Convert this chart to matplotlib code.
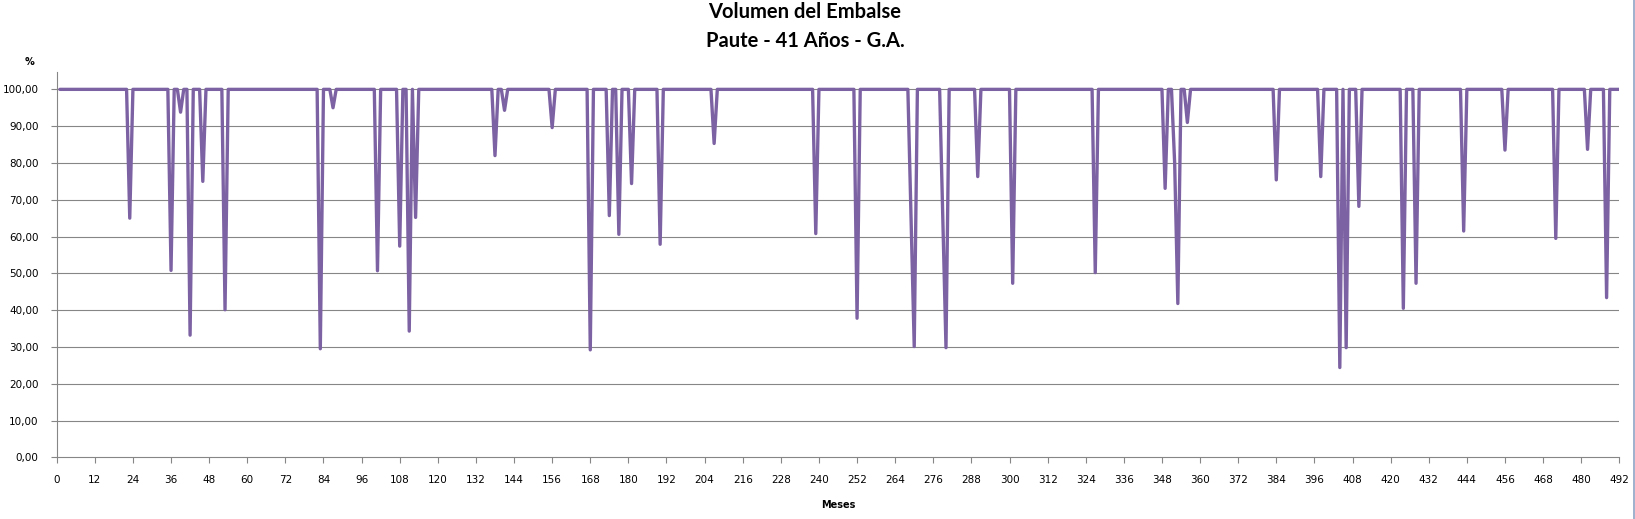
import numpy as np
import matplotlib
matplotlib.use('Agg')
import matplotlib.pyplot as plt
from matplotlib.lines import Line2D

# datos (meses 1..492, volumen en %)
n_months = 492
full_level = 100.0
dip_months = [23, 36, 39, 42, 46, 53, 83, 87, 101, 108, 111, 113, 138, 141, 156,
              168, 174, 177, 181, 190, 207, 239, 252, 269, 270, 279, 280, 290, 301,
              327, 349, 352, 353, 356, 384, 398, 404, 406, 410, 424, 428, 443, 456,
              472, 482, 488]
dip_values = [65.0, 50.8, 93.8, 33.2, 75.0, 40.1, 29.5, 95.0, 50.7, 57.4, 34.3, 65.2,
              82.0, 94.3, 89.6, 29.2, 65.7, 60.6, 74.4, 57.9, 85.3, 60.8, 37.8, 65.0,
              30.1, 65.0, 29.8, 76.3, 47.3, 50.2, 73.1, 80.0, 41.8, 91.0, 75.4, 76.3,
              24.4, 29.8, 68.2, 40.5, 47.3, 61.5, 83.5, 59.5, 83.7, 43.4]

y_ticks = list(range(0, 101, 10))
y_labels = [f"{v},00" for v in y_ticks]
x_ticks = list(range(0, 493, 12))

months = np.arange(1, n_months + 1)
volumen = np.full(n_months, full_level)
volumen[np.array(dip_months) - 1] = dip_values

W, H = 1635, 519
fig = plt.figure(figsize=(W / 100, H / 100), dpi=100)
ax = fig.add_axes([56.7 / W, (H - 457.3) / H, (1619.3 - 56.7) / W, (457.3 - 71.7) / H])

grid_col = '#868686'
for v in y_ticks[1:]:
    ax.axhline(v, color=grid_col, lw=0.8, zorder=1)

ax.plot(months, volumen, color='#7D62A3', lw=2.4, solid_joinstyle='round',
        solid_capstyle='round', zorder=3)

ax.set_xlim(0, n_months)
ax.set_ylim(0, 104.8)
ax.set_xticks(x_ticks)
ax.set_xticklabels([str(t) for t in x_ticks])
ax.set_yticks(y_ticks)
ax.set_yticklabels(y_labels)
ax.tick_params(axis='both', direction='out', length=4, width=0.8, color=grid_col,
               labelsize=7.5, labelcolor='black')
ax.tick_params(axis='x', pad=9)
ax.tick_params(axis='y', pad=9)
for s in ['top', 'right']:
    ax.spines[s].set_visible(False)
for s in ['left', 'bottom']:
    ax.spines[s].set_color(grid_col)
    ax.spines[s].set_linewidth(0.8)

fig.text(838 / W, 1 - 505 / H, 'Meses', ha='center', va='center', fontsize=7,
         fontweight='bold', family='DejaVu Sans')
fig.text(29.3 / W, 1 - 62.3 / H, '%', ha='center', va='center', fontsize=7,
         fontweight='bold', family='DejaVu Sans')

fig.text(805 / W, 1 - 12.5 / H, 'Volumen del Embalse', ha='center', va='center',
         fontsize=14.5, fontweight='bold', family='Lato')
fig.text(805 / W, 1 - 41 / H, 'Paute - 41 Años - G.A.', ha='center', va='center',
         fontsize=14.5, fontweight='bold', family='Lato')

# borde derecho del grafico
fig.add_artist(Line2D([1633.5 / W, 1633.5 / W], [0, 1], transform=fig.transFigure,
                      color='#8FA3C6', lw=1.2))

fig.savefig('out.png', dpi=100, facecolor='white')
plt.close(fig)
